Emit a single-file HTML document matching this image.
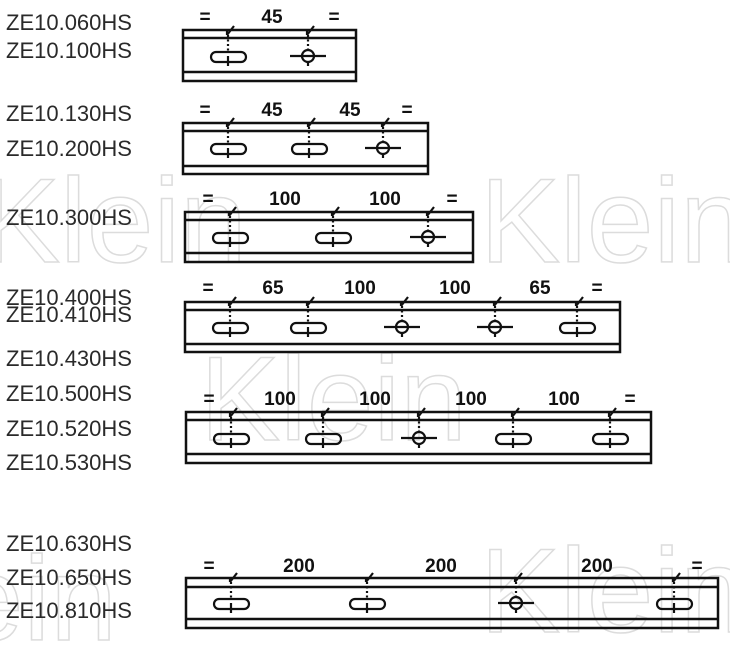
<!DOCTYPE html>
<html><head><meta charset="utf-8"><style>
body{margin:0;background:#fff;width:730px;height:651px;overflow:hidden}
svg{position:absolute;left:0;top:0}
.l{font-family:"Liberation Sans",sans-serif;font-size:22px;fill:#2a2a2a}
.n{font-family:"Liberation Sans Narrow","Liberation Sans",sans-serif;font-size:19px;font-weight:bold;fill:#111;text-anchor:middle}
.w{font-family:"Liberation Sans",sans-serif;font-size:120px;fill:none;stroke:#dcdcdc;stroke-width:1.5}
</style></head><body>
<svg width="730" height="651" viewBox="0 0 730 651">
<defs>
<g id="s" stroke="#111" fill="none" stroke-width="2.2">
<path d="M-1 4 L6 -5 M-1 4 L-1 0"/>
<line x1="0" y1="4" x2="0" y2="21" stroke-dasharray="2 2.5"/>
<rect x="-17" y="21" width="35" height="10" rx="5"/>
<line x1="0" y1="25" x2="0" y2="35"/>
</g>
<g id="c" stroke="#111" fill="none" stroke-width="2.2">
<path d="M-1 4 L6 -5 M-1 4 L-1 0"/>
<line x1="0" y1="4" x2="0" y2="20" stroke-dasharray="2 2.5"/>
<circle cx="0" cy="25" r="6"/>
<line x1="-18" y1="25" x2="18" y2="25"/>
<line x1="0" y1="31" x2="0" y2="35"/>
</g>
</defs>
<g class="w">
<text x="-20" y="262">Klein</text>
<text x="480" y="262">Klein</text>
<text x="200" y="440">Klein</text>
<text x="-150" y="640">Klein</text>
<text x="480" y="632">Klein</text>
</g>
<g class="l">
<text x="6" y="30">ZE10.060HS</text>
<text x="6" y="58">ZE10.100HS</text>
<text x="6" y="121">ZE10.130HS</text>
<text x="6" y="156">ZE10.200HS</text>
<text x="6" y="225">ZE10.300HS</text>
<text x="6" y="305">ZE10.400HS</text>
<text x="6" y="322">ZE10.410HS</text>
<text x="6" y="366">ZE10.430HS</text>
<text x="6" y="401">ZE10.500HS</text>
<text x="6" y="436">ZE10.520HS</text>
<text x="6" y="470">ZE10.530HS</text>
<text x="6" y="551">ZE10.630HS</text>
<text x="6" y="585">ZE10.650HS</text>
<text x="6" y="618">ZE10.810HS</text>
</g>
<g fill="none" stroke="#111" stroke-width="2.5">
<rect x="183" y="30" width="173" height="51"/><line x1="183" y1="38" x2="356" y2="38"/><line x1="183" y1="72" x2="356" y2="72"/>
<rect x="183" y="123" width="245" height="51"/><line x1="183" y1="131" x2="428" y2="131"/><line x1="183" y1="166" x2="428" y2="166"/>
<rect x="185" y="212" width="288" height="50"/><line x1="185" y1="220" x2="473" y2="220"/><line x1="185" y1="253" x2="473" y2="253"/>
<rect x="185" y="302" width="435" height="50"/><line x1="185" y1="310" x2="620" y2="310"/><line x1="185" y1="344" x2="620" y2="344"/>
<rect x="186" y="412" width="465" height="51"/><line x1="186" y1="420" x2="651" y2="420"/><line x1="186" y1="454" x2="651" y2="454"/>
<rect x="186" y="578" width="532" height="50"/><line x1="186" y1="587" x2="718" y2="587"/><line x1="186" y1="619" x2="718" y2="619"/>
</g>
<use href="#s" x="228" y="31"/><use href="#c" x="308" y="31"/>
<use href="#s" x="228" y="123"/><use href="#s" x="309" y="123"/><use href="#c" x="383" y="123"/>
<use href="#s" x="230" y="212"/><use href="#s" x="333" y="212"/><use href="#c" x="428" y="212"/>
<use href="#s" x="230" y="302"/><use href="#s" x="308" y="302"/><use href="#c" x="402" y="302"/><use href="#c" x="495" y="302"/><use href="#s" x="577" y="302"/>
<use href="#s" x="231" y="413"/><use href="#s" x="323" y="413"/><use href="#c" x="419" y="413"/><use href="#s" x="513" y="413"/><use href="#s" x="610" y="413"/>
<use href="#s" x="231" y="578"/><use href="#s" x="367" y="578"/><use href="#c" x="516" y="578"/><use href="#s" x="674" y="578"/>
<g class="n">
<text x="205" y="23">=</text><text x="272" y="23">45</text><text x="334" y="23">=</text>
<text x="205" y="116">=</text><text x="272" y="116">45</text><text x="350" y="116">45</text><text x="407" y="116">=</text>
<text x="208" y="205">=</text><text x="285" y="205">100</text><text x="385" y="205">100</text><text x="452" y="205">=</text>
<text x="208" y="294">=</text><text x="273" y="294">65</text><text x="360" y="294">100</text><text x="455" y="294">100</text><text x="540" y="294">65</text><text x="597" y="294">=</text>
<text x="209" y="405">=</text><text x="280" y="405">100</text><text x="375" y="405">100</text><text x="471" y="405">100</text><text x="564" y="405">100</text><text x="630" y="405">=</text>
<text x="209" y="572">=</text><text x="299" y="572">200</text><text x="441" y="572">200</text><text x="597" y="572">200</text><text x="697" y="572">=</text>
</g>
</svg>
</body></html>
